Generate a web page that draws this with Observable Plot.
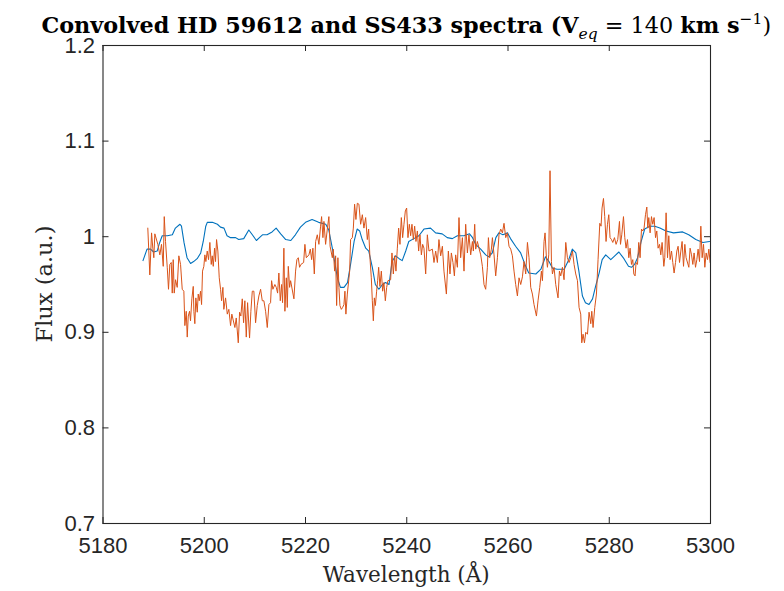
<!DOCTYPE html>
<html><head><meta charset="utf-8">
<script src="https://cdn.jsdelivr.net/npm/d3@7"></script>
<script src="https://cdn.jsdelivr.net/npm/@observablehq/plot@0.6"></script>
<style>body{margin:0;background:#fff} svg{display:block}</style>
</head><body><div id="chart"></div>
<script>
// Convolved HD 59612 model (blue)
const modelWavelength = [5187.9,5188.7,5189.4,5190.0,5190.7,5191.2,5191.7,5192.7,5193.7,5194.3,
5195.2,5195.5,5196.0,5196.6,5197.3,5197.9,5198.6,5199.3,5199.8,5200.3,
5200.6,5201.6,5202.6,5203.2,5203.9,5204.5,5205.2,5206.2,5206.8,5207.8,
5208.8,5209.5,5210.3,5210.9,5211.5,5212.4,5213.4,5214.2,5215.1,5216.1,
5217.1,5218.0,5219.0,5220.0,5221.3,5222.6,5224.0,5224.6,5225.3,5226.3,
5226.9,5227.6,5228.3,5228.9,5229.6,5230.2,5230.7,5231.2,5231.9,5232.5,
5233.2,5233.8,5234.5,5235.2,5235.8,5236.5,5237.1,5237.8,5238.5,5239.1,
5239.8,5240.4,5241.4,5242.4,5243.4,5244.7,5245.7,5247.0,5248.0,5249.0,
5250.0,5251.3,5252.4,5253.0,5253.6,5254.6,5255.6,5256.2,5256.9,5257.6,
5258.2,5259.0,5259.9,5260.5,5261.5,5262.5,5263.5,5264.1,5265.5,5266.5,
5267.4,5268.1,5268.8,5269.7,5271.1,5272.0,5272.7,5273.4,5274.0,5274.7,
5275.3,5276.0,5276.7,5277.3,5278.0,5278.6,5279.3,5280.3,5281.3,5281.9,
5282.9,5283.8,5284.4,5285.0,5285.6,5286.3,5287.0,5288.0,5289.0,5290.0,
5291.2,5292.7,5294.5,5295.7,5297.1,5298.5,5299.8];
const modelFlux = [0.975,0.987,0.987,0.984,0.985,0.994,1.001,1.001,1.002,1.009,
1.013,1.011,0.994,0.978,0.972,0.974,0.977,0.983,0.995,1.011,
1.015,1.015,1.013,1.010,1.009,1.001,0.999,0.999,0.997,0.998,
1.007,1.002,0.996,0.999,1.002,1.002,1.005,1.009,1.003,0.997,
0.996,1.002,1.010,1.015,1.018,1.015,1.013,1.007,0.988,0.957,
0.947,0.947,0.952,0.971,0.995,1.008,1.006,0.997,0.988,0.985,
0.968,0.950,0.945,0.950,0.952,0.950,0.974,0.980,0.977,0.975,
0.985,0.995,0.998,1.001,1.008,1.009,1.004,1.003,0.999,0.998,
1.001,1.001,1.003,0.999,0.992,0.987,0.981,0.979,0.983,0.999,
1.004,1.002,1.004,0.998,0.990,0.983,0.969,0.962,0.961,0.966,
0.979,0.974,0.967,0.966,0.966,0.976,0.987,0.983,0.964,0.938,
0.931,0.929,0.935,0.948,0.962,0.976,0.981,0.976,0.981,0.984,
0.977,0.969,0.968,0.971,0.978,0.995,1.008,1.011,1.011,1.009,
1.006,1.004,1.005,1.002,0.997,0.994,0.995];

// SS433 spectrum (orange)
const obsWavelength = [5188.85,5189.25,5189.59,5189.84,5190.04,5190.24,5190.83,5191.23,5191.56,5191.90,
5192.10,5192.35,5192.69,5192.94,5193.20,5193.48,5193.68,5193.87,5194.07,5194.33,
5194.66,5194.98,5195.32,5195.65,5195.97,5196.17,5196.44,5196.64,5196.84,5197.10,
5197.29,5197.55,5197.83,5197.95,5198.14,5198.34,5198.62,5198.81,5199.01,5199.27,
5199.47,5199.66,5199.92,5200.12,5200.32,5200.59,5200.85,5201.11,5201.38,5201.58,
5201.78,5202.04,5202.23,5202.43,5202.69,5202.96,5203.22,5203.42,5203.68,5203.87,
5204.21,5204.55,5204.86,5205.20,5205.45,5206.05,5206.32,5206.72,5206.98,5207.23,
5207.51,5207.77,5208.02,5208.30,5208.56,5208.95,5209.21,5209.49,5209.80,5210.14,
5210.47,5210.79,5211.13,5211.46,5211.78,5212.12,5212.45,5212.77,5213.10,5213.30,
5213.56,5213.95,5214.23,5214.49,5214.74,5215.02,5215.28,5215.47,5215.73,5215.93,
5216.21,5216.40,5216.60,5216.86,5217.06,5217.71,5218.04,5218.30,5218.58,5218.83,
5219.09,5219.63,5219.88,5220.16,5220.67,5220.95,5221.21,5221.46,5221.74,5222.00,
5222.33,5222.65,5222.98,5223.18,5223.44,5223.64,5223.97,5224.31,5224.62,5224.86,
5225.30,5225.49,5225.75,5225.95,5226.15,5226.40,5226.60,5226.80,5227.08,5227.33,
5227.59,5227.79,5227.98,5228.26,5228.72,5228.91,5229.25,5229.45,5229.70,5229.96,
5230.24,5230.55,5230.89,5231.23,5231.54,5231.88,5232.21,5232.47,5232.73,5233.00,
5233.20,5233.40,5233.60,5233.80,5234.05,5234.25,5234.45,5234.70,5234.98,5235.24,
5235.49,5235.77,5236.03,5236.28,5236.82,5237.08,5237.35,5237.61,5237.87,5238.14,
5238.40,5238.66,5238.93,5239.19,5239.45,5239.72,5239.98,5240.24,5240.51,5240.77,
5241.03,5241.30,5241.56,5241.82,5242.10,5242.35,5242.61,5242.89,5243.14,5243.40,
5243.74,5244.07,5244.39,5245.06,5245.38,5245.71,5246.05,5246.36,5246.70,5247.04,
5247.35,5247.83,5248.22,5248.54,5248.81,5249.13,5249.41,5249.66,5250.00,5250.32,
5250.65,5250.99,5251.31,5251.64,5251.98,5252.29,5252.63,5252.97,5253.16,5253.42,
5253.62,5253.95,5254.27,5254.61,5254.94,5255.26,5255.59,5255.93,5256.13,5256.38,
5256.72,5256.92,5257.24,5257.57,5257.91,5258.22,5258.56,5258.90,5259.21,5259.55,
5259.88,5260.20,5260.54,5260.87,5261.19,5261.52,5261.86,5262.18,5262.51,5262.85,
5263.16,5263.50,5263.84,5264.15,5264.49,5264.82,5265.14,5265.62,5265.93,5266.27,
5266.60,5266.80,5267.12,5267.32,5267.59,5267.79,5268.05,5268.30,5268.58,5268.78,
5269.09,5269.43,5269.88,5270.16,5270.42,5270.75,5271.07,5271.41,5271.74,5272.06,
5272.39,5272.73,5273.05,5273.38,5273.72,5274.04,5274.37,5274.57,5274.83,5275.10,
5275.36,5275.70,5276.01,5276.35,5276.55,5276.80,5277.14,5277.47,5277.79,5278.13,
5278.38,5278.58,5278.86,5279.11,5279.37,5279.65,5279.91,5280.16,5280.44,5280.70,
5281.03,5281.35,5281.68,5282.02,5282.22,5282.47,5282.81,5283.07,5283.32,5283.60,
5283.86,5284.12,5284.39,5284.65,5284.85,5285.10,5285.30,5285.58,5285.83,5286.09,
5286.37,5286.63,5286.88,5287.16,5287.42,5287.61,5287.81,5288.07,5288.34,5288.60,
5288.86,5289.14,5289.39,5289.65,5289.93,5290.18,5290.44,5290.78,5290.97,5291.23,
5291.51,5291.76,5292.02,5292.30,5292.55,5292.81,5293.09,5293.35,5293.60,5293.88,
5294.14,5294.39,5294.67,5294.93,5295.18,5295.72,5295.97,5296.25,5296.51,5296.76,
5297.04,5297.30,5297.55,5297.83,5298.09,5298.35,5298.62,5298.88,5299.14,5299.41,
5299.67,5299.93];
const obsFlux = [1.009,0.960,1.004,0.988,0.978,1.003,0.992,0.981,0.992,0.969,
1.021,0.995,0.968,0.945,0.971,0.973,0.941,0.976,0.941,0.955,
0.947,0.980,0.971,0.945,0.943,0.907,0.922,0.895,0.917,0.922,
0.912,0.935,0.948,0.922,0.909,0.936,0.921,0.940,0.933,0.943,
0.929,0.964,0.969,0.981,0.974,0.985,0.976,0.994,0.971,0.980,
0.969,0.988,0.974,0.997,0.985,0.957,0.945,0.933,0.947,0.924,
0.936,0.919,0.924,0.907,0.919,0.905,0.915,0.889,0.921,0.917,
0.935,0.910,0.933,0.895,0.931,0.894,0.922,0.943,0.943,0.910,
0.928,0.938,0.945,0.933,0.933,0.922,0.905,0.929,0.931,0.954,
0.945,0.950,0.947,0.941,0.962,0.933,0.950,0.931,0.988,0.922,
0.957,0.926,0.969,0.947,0.954,0.935,0.964,0.976,0.978,0.968,
0.971,0.973,0.992,0.978,0.981,0.987,0.976,0.988,0.961,0.995,
1.002,0.992,1.011,1.021,0.999,1.016,0.992,1.008,1.021,0.990,
0.978,0.987,0.964,0.980,0.928,0.978,0.947,0.928,0.924,0.926,
0.929,0.943,0.919,0.940,0.964,0.997,0.999,1.009,1.034,1.018,
1.035,1.034,1.013,1.023,1.009,1.020,0.997,1.008,0.978,0.957,
0.933,0.912,0.936,0.928,0.943,0.954,0.968,0.948,0.964,0.943,
0.952,0.933,0.947,0.954,0.955,0.983,0.961,0.980,0.964,0.988,
1.009,0.992,1.020,0.999,1.013,1.027,1.030,0.999,1.013,1.001,
1.013,0.997,1.011,0.995,1.006,0.985,1.002,0.981,0.992,0.988,
0.961,1.002,0.985,0.987,0.973,0.985,0.973,0.997,0.980,0.990,
0.964,0.940,0.985,0.961,0.983,0.973,0.959,0.981,0.968,1.020,
0.978,0.999,0.964,1.013,0.983,1.002,0.981,0.995,0.985,1.013,
0.987,0.995,0.988,0.981,0.969,0.950,0.945,0.968,0.999,0.978,
0.987,0.999,0.981,0.959,0.978,1.002,1.008,1.004,1.014,0.999,
1.004,0.990,0.987,0.980,0.964,0.950,0.938,0.957,0.950,0.958,
0.974,0.961,0.994,0.978,0.947,0.940,0.929,0.917,0.933,0.947,
0.964,0.954,0.995,1.004,0.978,0.968,0.981,1.069,0.974,0.961,
0.968,0.950,0.936,0.964,0.959,0.968,0.955,0.994,0.978,0.973,
0.978,0.985,0.971,0.961,0.954,0.926,0.919,0.889,0.898,0.889,
0.900,0.898,0.921,0.909,0.922,0.905,0.926,0.940,0.976,1.014,
1.011,1.030,1.040,1.021,0.995,1.013,1.023,0.999,0.997,0.994,
0.999,0.992,0.997,1.016,0.992,1.002,1.021,0.999,0.988,0.997,
0.978,0.988,0.971,0.976,0.961,0.959,0.973,0.971,0.994,0.978,
1.008,1.006,1.009,1.023,1.031,1.009,1.020,1.004,1.021,1.013,
1.020,0.999,1.006,0.988,0.992,0.981,0.994,0.969,0.978,1.025,
0.978,1.001,0.976,0.985,0.973,0.962,0.973,0.985,0.990,0.973,
0.985,0.995,0.969,0.992,0.978,0.968,0.988,0.981,0.971,0.983,
0.968,0.976,0.987,0.974,1.011,0.978,0.992,0.968,0.983,0.976,
0.987,0.973];

const xTicks = [5180,5200,5220,5240,5260,5280,5300];
const yTicks = [0.7,0.8,0.9,1,1.1,1.2];
const yTickLabels = ["0.7","0.8","0.9","1","1.1","1.2"];
const xLabel = "Wavelength (Å)";
const yLabel = "Flux (a.u.)";
const titleParts = ["Convolved HD 59612 and SS433 spectra (V", "eq", " = 140 ", "km s", "−1", ")"];

const W = 784, H = 591, mL = 102.5, mR = 74, mT = 45, mB = 68;
const frameW = W - mL - mR, frameH = H - mT - mB, tick = 6;
const axisColor = "#262626";
const tickFont = "'Liberation Sans', Arial, Helvetica, sans-serif";

const plot = Plot.plot({
  width: W, height: H,
  marginLeft: mL, marginRight: mR, marginTop: mT, marginBottom: mB,
  x: {domain: [5180, 5300]},
  y: {domain: [0.7, 1.2]},
  style: {background: "#fff", color: axisColor},
  marks: [
    Plot.line({length: modelFlux.length}, {x: modelWavelength, y: modelFlux, stroke: "#0072BD", strokeWidth: 1.1, clip: true}),
    Plot.line({length: obsFlux.length}, {x: obsWavelength, y: obsFlux, stroke: "#D95319", strokeWidth: 1, clip: true}),
    Plot.tickX(xTicks, {x: d => d, insetTop: frameH - tick, stroke: axisColor}),
    Plot.tickX(xTicks, {x: d => d, insetBottom: frameH - tick, stroke: axisColor}),
    Plot.tickY(yTicks, {y: d => d, insetRight: frameW - tick, stroke: axisColor}),
    Plot.tickY(yTicks, {y: d => d, insetLeft: frameW - tick, stroke: axisColor}),
    Plot.frame({stroke: axisColor, strokeWidth: 1.1}),
    Plot.axisX(xTicks, {tickSize: 0, tickPadding: 14, fontSize: 22, fontFamily: tickFont, label: null, tickFormat: d => String(d)}),
    Plot.axisY(yTicks, {tickSize: 0, tickPadding: 8, fontSize: 22, fontFamily: tickFont, label: null, tickFormat: d => yTickLabels[yTicks.indexOf(d)]})
  ]
});

const svg = d3.select(plot);
const serif = "'DejaVu Serif', 'Liberation Serif', serif";
const cx = mL + frameW / 2;
svg.append("text")
  .attr("x", cx).attr("y", 582)
  .attr("text-anchor", "middle")
  .attr("font-family", serif).attr("font-size", 21.5).attr("fill", axisColor)
  .text(xLabel);
svg.append("text")
  .attr("transform", `translate(52,${mT + frameH / 2}) rotate(-90)`)
  .attr("text-anchor", "middle")
  .attr("font-family", serif).attr("font-size", 22.5).attr("fill", axisColor)
  .text(yLabel);
const t = svg.append("text")
  .attr("x", cx).attr("y", 33)
  .attr("text-anchor", "middle")
  .attr("font-family", serif).attr("font-size", 22.3).attr("fill", "#000");
t.append("tspan").attr("font-weight", "bold").text(titleParts[0]);
t.append("tspan").attr("font-style", "italic").attr("font-size", 15.5).attr("dy", 5.5).text(titleParts[1]);
t.append("tspan").attr("dy", -5.5).text(titleParts[2]);
t.append("tspan").attr("font-weight", "bold").text(titleParts[3]);
t.append("tspan").attr("font-size", 15.5).attr("dy", -9).text(titleParts[4]);
t.append("tspan").attr("dy", 9).text(titleParts[5]);

document.getElementById("chart").appendChild(plot);
</script>
</body></html>
